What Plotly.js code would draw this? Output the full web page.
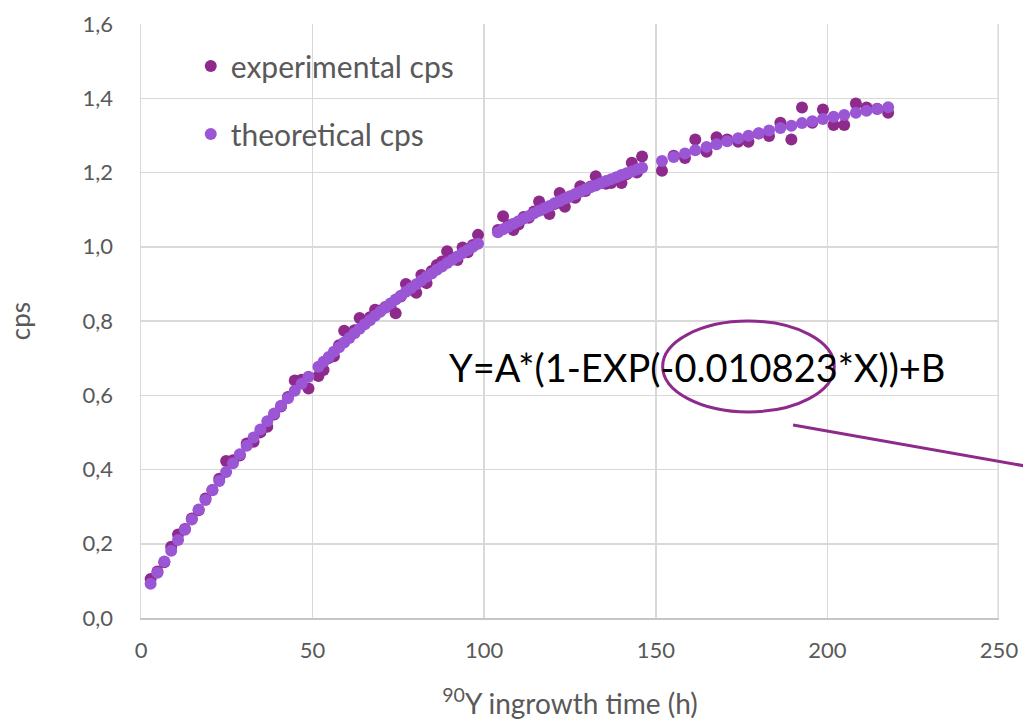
<!DOCTYPE html>
<html>
<head>
<meta charset="utf-8">
<script src="https://cdn.plot.ly/plotly-3.0.1.min.js"></script>
<style>
  html, body { margin: 0; padding: 0; background: #ffffff; }
  #chart { width: 1023px; height: 720px; }
</style>
</head>
<body>
<div id="chart"></div>
<script>
// ---- data ----
const hours = [
  2.8,4.8,6.8,8.8,10.8,12.8,14.8,16.8,18.8,20.8,22.8,24.8,26.8,28.8,30.8,32.8,34.8,36.8,38.8,40.8,42.8,44.8,46.8,48.8,
  51.7,53.2,54.7,56.2,57.7,59.2,60.7,62.2,63.7,65.2,66.7,68.2,69.7,71.2,72.7,74.2,75.7,77.2,78.7,80.2,81.7,83.2,84.7,86.2,87.7,89.2,90.7,92.2,93.7,95.2,96.7,98.2,
  104.0,105.5,107.0,108.5,110.0,111.5,113.0,114.5,116.0,117.5,119.0,120.5,122.0,123.5,125.0,126.5,128.0,129.5,131.0,132.5,134.0,135.5,137.0,138.5,140.0,141.5,143.0,144.5,146.0,
  151.8,155.2,158.5,161.5,164.8,167.7,170.8,174.0,177.0,180.0,183.0,186.3,189.5,192.6,195.6,198.7,201.8,204.9,208.3,211.4,214.5,217.7
];
const experimentalCps = [
  0.105,0.125,0.150,0.192,0.225,0.240,0.268,0.290,0.322,0.345,0.375,0.423,0.425,0.438,0.470,0.475,0.500,0.515,0.548,0.570,0.595,0.640,0.642,0.618,
  0.652,0.668,0.700,0.705,0.735,0.774,0.760,0.775,0.808,0.795,0.810,0.830,0.828,0.838,0.840,0.821,0.866,0.900,0.885,0.876,0.924,0.902,0.935,0.951,0.960,0.988,0.970,0.964,0.998,0.985,1.005,1.032,
  1.045,1.082,1.058,1.045,1.060,1.080,1.078,1.095,1.122,1.100,1.088,1.115,1.145,1.108,1.135,1.132,1.163,1.150,1.162,1.190,1.172,1.170,1.172,1.185,1.172,1.195,1.226,1.200,1.243,
  1.205,1.245,1.239,1.289,1.256,1.295,1.289,1.283,1.283,1.305,1.298,1.334,1.289,1.375,1.334,1.370,1.328,1.328,1.386,1.375,1.372,1.361
];
const theoreticalCps = [
  0.092,0.122,0.152,0.181,0.210,0.238,0.265,0.292,0.318,0.344,0.369,0.393,0.417,0.441,0.464,0.486,0.508,0.530,0.551,0.572,0.592,0.612,0.631,0.650,
  0.677,0.690,0.703,0.717,0.729,0.742,0.754,0.767,0.779,0.791,0.802,0.814,0.825,0.836,0.847,0.858,0.868,0.879,0.889,0.899,0.909,0.919,0.928,0.938,0.947,0.956,0.965,0.974,0.983,0.991,1.000,1.008,
  1.039,1.047,1.054,1.062,1.069,1.076,1.083,1.090,1.097,1.104,1.110,1.117,1.123,1.130,1.136,1.142,1.148,1.154,1.160,1.165,1.171,1.177,1.182,1.187,1.193,1.198,1.203,1.208,1.213,
  1.231,1.242,1.251,1.260,1.269,1.276,1.284,1.292,1.299,1.306,1.313,1.320,1.326,1.333,1.338,1.344,1.350,1.355,1.361,1.366,1.371,1.376
];
const seriesNames = ["experimental cps", "theoretical cps"];
const xTickValues = [0, 50, 100, 150, 200, 250];
const yTickValues = [0, 0.2, 0.4, 0.6, 0.8, 1.0, 1.2, 1.4, 1.6];
const equationText = "Y=A*(1-EXP(-0.010823*X))+B";
const xTitle = "<sup>90</sup>Y ingrowth time (h)";
const yTitle = "cps";

// ---- styles ----
const FONT = "Lato, 'Open Sans', sans-serif";
const GREY = "#595959";
const EXP_COLOR = "#8E2A8C";
const THEO_COLOR = "#9A56D4";

const traces = [
  {
    x: hours, y: experimentalCps, name: seriesNames[0], type: "scatter", mode: "markers",
    legendgroup: "a",
    marker: { color: EXP_COLOR, size: 12 }
  },
  {
    x: hours, y: theoreticalCps, name: seriesNames[1], type: "scatter", mode: "markers",
    legendgroup: "b",
    marker: { color: THEO_COLOR, size: 12 }
  }
];

const layout = {
  width: 1023, height: 720,
  margin: { l: 140.5, r: 24, t: 24, b: 102, pad: 0 },
  paper_bgcolor: "#ffffff", plot_bgcolor: "#ffffff",
  separators: ",.",
  font: { family: FONT, color: GREY, size: 22 },
  showlegend: true,
  legend: {
    x: 0.058, y: 0.973, xanchor: "left", yanchor: "top",
    bgcolor: "rgba(0,0,0,0)",
    font: { family: FONT, size: 30, color: GREY },
    traceorder: "grouped", tracegroupgap: 26,
    itemsizing: "trace"
  },
  xaxis: {
    range: [0, 250], tickvals: xTickValues, ticks: "",
    showgrid: true, gridcolor: "#D9D9D9", gridwidth: 1.5,
    zeroline: false, showline: true, linecolor: "#C6C6C6", linewidth: 2,
    tickfont: { family: FONT, size: 22, color: GREY },
    ticklabelstandoff: 12,
    title: { text: xTitle, font: { family: FONT, size: 28, color: GREY }, standoff: 32 }
  },
  yaxis: {
    range: [0, 1.6], tickvals: yTickValues, tickformat: ".1f", ticks: "",
    showgrid: true, gridcolor: "#D9D9D9", gridwidth: 1.5,
    zeroline: false, showline: true, linecolor: "#D9D9D9", linewidth: 1.5,
    tickfont: { family: FONT, size: 22, color: GREY },
    ticklabelstandoff: 22,
    title: { text: yTitle, font: { family: FONT, size: 26, color: GREY }, standoff: 44 }
  },
  annotations: [
    {
      xref: "paper", yref: "paper", x: 0.648, y: 0.422,
      xanchor: "center", yanchor: "middle", showarrow: false,
      text: equationText,
      font: { family: FONT, size: 38, color: "#000000" }
    }
  ],
  shapes: [
    {
      type: "line", xref: "paper", yref: "paper", x0: 0.999, x1: 0.999, y0: 0, y1: 1,
      line: { color: "#D9D9D9", width: 1.5 }, layer: "below"
    },
    {
      type: "circle", xref: "paper", yref: "paper",
      x0: 0.608, x1: 0.808, y0: 0.347, y1: 0.500,
      line: { color: EXP_COLOR, width: 3 }
    },
    {
      type: "line", xref: "paper", yref: "paper",
      x0: 0.760, y0: 0.325, x1: 1.03, y1: 0.256,
      line: { color: EXP_COLOR, width: 3 }
    }
  ]
};

Plotly.newPlot("chart", traces, layout, { displayModeBar: false, staticPlot: true });
</script>
</body>
</html>
